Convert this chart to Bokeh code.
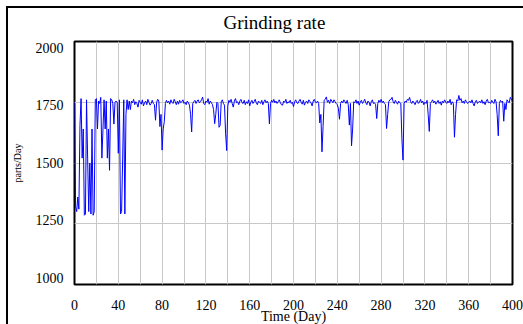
from bokeh.plotting import figure
from bokeh.models import Range1d, LinearAxis, FixedTicker, ColumnDataSource
from bokeh.embed import file_html
from bokeh.resources import INLINE

# Daily grinding rate (parts/Day) over the 400-day run
days = list(range(401))
grinding_rate = [
    1750,
    1320, 1300, 1360, 1310, 1655, 1765, 1520, 1640, 1285, 1290,
    1760, 1520, 1300, 1500, 1290, 1640, 1285, 1300, 1760, 1765,
    1640, 1755, 1745, 1770, 1520, 1640, 1760, 1640, 1755, 1520,
    1640, 1470, 1765, 1760, 1745, 1660, 1750, 1755, 1750, 1540,
    1760, 1290, 1300, 1520, 1760, 1290, 1700, 1760, 1720, 1755,
    1720, 1755, 1748, 1762, 1740, 1752, 1745, 1730, 1758, 1750,
    1742, 1760, 1735, 1748, 1755, 1740, 1762, 1750, 1738, 1745,
    1758, 1745, 1740, 1676, 1750, 1762, 1755, 1650, 1700, 1553,
    1640, 1670, 1745, 1758, 1748, 1755, 1742, 1760, 1750, 1745,
    1762, 1752, 1740, 1755, 1742, 1758, 1748, 1752, 1760, 1745,
    1750, 1740, 1755, 1748, 1738, 1700, 1628, 1745, 1752, 1758,
    1745, 1755, 1760, 1748, 1752, 1760, 1771, 1745, 1740, 1755,
    1750, 1765, 1742, 1755, 1748, 1740, 1720, 1662, 1700, 1750,
    1745, 1647, 1655, 1752, 1760, 1745, 1738, 1620, 1551, 1735,
    1758, 1750, 1762, 1745, 1730, 1755, 1765, 1748, 1752, 1740,
    1755, 1762, 1748, 1745, 1758, 1740, 1752, 1745, 1760, 1735,
    1750, 1758, 1745, 1752, 1762, 1748, 1740, 1755, 1750, 1745,
    1758, 1740, 1752, 1760, 1748, 1755, 1745, 1661, 1745, 1758,
    1750, 1762, 1748, 1755, 1745, 1752, 1760, 1748, 1740, 1738,
    1755, 1750, 1762, 1745, 1752, 1748, 1758, 1745, 1750, 1732,
    1752, 1760, 1748, 1745, 1755, 1762, 1750, 1742, 1758, 1738,
    1750, 1755, 1745, 1760, 1752, 1748, 1735, 1755, 1762, 1750,
    1748, 1755, 1745, 1665, 1700, 1546, 1650, 1758, 1762, 1772,
    1750, 1758, 1745, 1762, 1755, 1748, 1760, 1752, 1745, 1740,
    1725, 1680, 1745, 1755, 1748, 1760, 1752, 1745, 1758, 1740,
    1656, 1745, 1571, 1640, 1752, 1748, 1760, 1745, 1755, 1738,
    1750, 1758, 1745, 1752, 1762, 1748, 1740, 1755, 1750, 1735,
    1752, 1760, 1745, 1748, 1740, 1683, 1745, 1758, 1750, 1762,
    1748, 1755, 1745, 1740, 1642, 1700, 1752, 1760, 1762, 1770,
    1752, 1745, 1758, 1750, 1742, 1755, 1748, 1745, 1600, 1512,
    1745, 1755, 1750, 1762, 1758, 1770, 1752, 1745, 1755, 1748,
    1740, 1752, 1758, 1745, 1750, 1762, 1748, 1755, 1740, 1750,
    1745, 1758, 1700, 1630, 1745, 1752, 1760, 1748, 1755, 1742,
    1750, 1758, 1745, 1752, 1738, 1755, 1748, 1760, 1750, 1745,
    1755, 1748, 1762, 1740, 1752, 1745, 1606, 1700, 1760, 1755,
    1778, 1758, 1765, 1748, 1755, 1745, 1760, 1752, 1745, 1750,
    1755, 1748, 1760, 1745, 1735, 1752, 1758, 1745, 1750, 1755,
    1748, 1760, 1745, 1752, 1740, 1755, 1762, 1748, 1750, 1745,
    1758, 1750, 1745, 1762, 1752, 1700, 1612, 1745, 1758, 1750,
    1755, 1672, 1745, 1720, 1760, 1752, 1748, 1770, 1762, 1755,
]

x_ticks = [0, 40, 80, 120, 160, 200, 240, 280, 320, 360, 400]
x_grid = list(range(0, 401, 20))
y_ticks = [1000, 1250, 1500, 1750, 2000]
y_grid = [1250, 1500, 1750]

SERIF = "Liberation Serif"

source = ColumnDataSource(data=dict(day=days, rate=grinding_rate))

p = figure(frame_width=438, frame_height=243,
           x_range=Range1d(0, 400), y_range=Range1d(1000, 2000),
           x_axis_location=None, y_axis_location=None,
           title="Grinding rate",
           output_backend="svg", toolbar_location=None,
           min_border_left=74, min_border_right=11,
           min_border_top=41, min_border_bottom=40,
           background_fill_color="white", border_fill_color=None)

# dark rule along the panel's top and left edges, a few pixels in
p.styles = {"background-color": "white",
            "box-shadow": "inset 6px 6px 0 0 white, inset 8px 8px 0 0 black"}

p.title.align = "left"
p.title.offset = 149
p.title.vertical_align = "bottom"
p.title.standoff = 18
p.title.text_font = SERIF
p.title.text_font_size = "19px"
p.title.text_font_style = "normal"
p.title.text_color = "black"

p.outline_line_color = "black"
p.outline_line_width = 2
p.outline_line_alpha = 1.0

# grid: vertical every 20 days, horizontal every 250 parts
p.xgrid.ticker = FixedTicker(ticks=x_grid)
p.ygrid.ticker = FixedTicker(ticks=y_grid)
p.grid.grid_line_color = "#c8c8c8"
p.grid.grid_line_width = 1
p.grid.grid_line_alpha = 1.0

# bottom axis
xaxis = LinearAxis(ticker=FixedTicker(ticks=x_ticks), axis_label="Time (Day)")
# left axis labels sit on their own, slightly compressed scale
p.extra_y_ranges = {"labels": Range1d(969.5, 2028.3)}
yaxis = LinearAxis(y_range_name="labels", ticker=FixedTicker(ticks=y_ticks),
                   axis_label="parts/Day")

for ax in (xaxis, yaxis):
    ax.axis_line_color = None
    ax.major_tick_line_color = None
    ax.minor_tick_line_color = None
    ax.major_tick_out = 0
    ax.major_tick_in = 0
    ax.major_label_text_font = SERIF
    ax.major_label_text_font_size = "14px"
    ax.major_label_text_color = "black"
    ax.axis_label_text_font = SERIF
    ax.axis_label_text_font_style = "normal"
    ax.axis_label_text_color = "black"

xaxis.major_label_standoff = 15
xaxis.axis_label_standoff = -4
xaxis.axis_label_text_font_size = "14px"
yaxis.major_label_standoff = 11
yaxis.axis_label_standoff = 10
yaxis.axis_label_text_font_size = "10px"

p.add_layout(xaxis, "below")
p.add_layout(yaxis, "left")

p.line("day", "rate", source=source, line_color="#0000ff", line_width=1)

open("out.html", "w").write(file_html(p, INLINE))
